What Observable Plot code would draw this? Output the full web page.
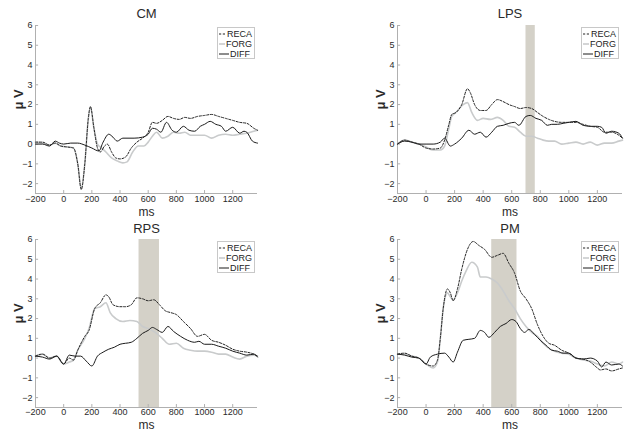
<!DOCTYPE html>
<html>
<head>
<meta charset="utf-8">
<script src="https://cdn.jsdelivr.net/npm/d3@7"></script>
<script src="https://cdn.jsdelivr.net/npm/@observablehq/plot@0.6"></script>
<style>
  html, body { margin: 0; padding: 0; background: #fff; }
  #wrap { position: relative; width: 629px; height: 437px; overflow: hidden; font-family: "Liberation Sans", Arial, sans-serif; }
  .panel { position: absolute; }
  .legend { position: absolute; border: 1px solid #c8c8c8; background: #fff; font-size: 9px; color: #222; line-height: 10px; padding: 1px 2px 1px 0; box-sizing: border-box; }
  .legend .row { display: flex; align-items: center; height: 10px; }
  .legend svg { display: block; margin-right: 1px; }
</style>
</head>
<body>
<div id="wrap"></div>
<script>
// ---- tick labels / domains ----
const xTicks = [-200, 0, 200, 400, 600, 800, 1000, 1200];
const yTicks = [-2, -1, 0, 1, 2, 3, 4, 5, 6];
const xDomain = [-200, 1376];
const yDomain = [-2.5, 6];
const seriesNames = ["RECA", "FORG", "DIFF"];
const panelTitles = ["CM", "LPS", "RPS", "PM"];

// ---- CM ----
const cmReca = [[-200,0.1],[-150,0.1],[-100,-0.05],[-60,0.05],[-20,-0.1],[30,-0.15],[70,-0.2],[100,-1.0],[125,-2.3],[150,-1.0],[175,1.3],[190,1.9],[215,0.8],[240,-0.2],[260,-0.4],[290,-0.1],[310,0.0],[340,-0.4],[370,-0.7],[400,-0.75],[440,-0.65],[480,-0.2],[520,0.1],[560,0.3],[600,0.6],[630,1.1],[660,1.05],[700,1.2],[740,1.4],[780,1.3],[820,1.25],[860,1.35],[900,1.3],[950,1.4],[1000,1.45],[1050,1.5],[1100,1.4],[1150,1.3],[1200,1.2],[1250,1.1],[1300,1.05],[1350,0.8],[1376,0.7]];
const cmForg = [[-200,0.1],[-150,0.05],[-100,-0.05],[-60,0.05],[-20,-0.1],[30,-0.15],[70,-0.2],[100,-1.0],[125,-2.25],[150,-1.0],[175,1.3],[190,1.85],[215,0.8],[240,0.0],[270,-0.2],[300,-0.4],[340,-0.7],[380,-0.85],[420,-0.95],[450,-0.9],[490,-0.4],[530,-0.1],[570,-0.1],[600,0.1],[630,0.4],[660,0.6],[700,0.3],[740,0.4],[780,0.6],[820,0.55],[860,0.6],[900,0.45],[950,0.45],[1000,0.45],[1050,0.3],[1100,0.45],[1150,0.5],[1200,0.45],[1250,0.5],[1300,0.55],[1350,0.65],[1376,0.7]];
const cmDiff = [[-200,0],[-150,0],[-100,-0.1],[-60,0.15],[-30,0.05],[0,0.0],[50,0.05],[100,0.05],[150,-0.05],[200,-0.2],[250,-0.35],[280,0.1],[320,0.5],[350,0.35],[380,0.15],[420,0.3],[500,0.3],[560,0.35],[600,0.5],[630,0.8],[660,0.75],[690,0.6],[730,1.1],[770,0.7],[800,0.6],[850,0.9],[890,0.7],[930,0.65],[970,0.9],[1000,1.0],[1040,1.15],[1080,1.0],[1120,0.9],[1150,0.65],[1200,0.85],[1250,0.55],[1280,0.65],[1300,0.6],[1340,0.15],[1376,0.05]];

// ---- LPS ----
const lpsReca = [[-200,0.0],[-150,0.2],[-100,0.1],[-50,0.0],[0,-0.2],[50,-0.25],[100,-0.2],[130,0.2],[160,1.0],[180,1.5],[210,1.6],[250,2.0],[290,2.8],[310,2.6],[340,2.0],[380,1.7],[420,1.7],[460,2.0],[500,2.25],[540,2.15],[580,2.0],[620,1.9],[660,1.8],[700,1.85],[740,1.8],[780,1.6],[820,1.4],[860,1.25],[900,1.15],[950,1.1],[1000,1.1],[1050,1.1],[1100,1.0],[1150,0.9],[1200,0.85],[1250,0.6],[1300,0.6],[1350,0.45],[1376,0.3]];
const lpsForg = [[-200,0],[-150,0.2],[-100,0.1],[-50,0],[0,-0.15],[50,-0.3],[100,-0.3],[130,-0.1],[160,0.8],[180,1.4],[210,1.6],[260,2.0],[290,2.1],[320,1.6],[360,1.2],[400,1.3],[450,1.25],[500,1.35],[540,1.2],[580,0.9],[620,0.85],[660,0.6],[700,0.4],[740,0.4],[780,0.3],[820,0.2],[860,0.15],[900,0.15],[950,0.0],[1000,0.05],[1050,0.1],[1100,0.0],[1150,0.1],[1200,-0.05],[1250,0.05],[1300,0.05],[1350,0.15],[1376,0.2]];
const lpsDiff = [[-200,0],[-150,0.15],[-100,0.1],[-50,0.0],[0,0.0],[50,0.0],[100,0.1],[130,0.3],[170,-0.1],[200,0.0],[250,0.3],[300,0.7],[340,0.5],[380,0.6],[420,0.35],[460,0.6],[500,0.9],[540,0.95],[580,1.05],[620,1.1],[650,0.95],[700,1.4],[730,1.45],[770,1.3],[810,1.2],[850,0.95],[880,1.0],[920,1.0],[960,1.05],[1000,1.1],[1050,1.15],[1100,0.95],[1150,0.9],[1200,0.9],[1230,0.85],[1260,0.55],[1300,0.65],[1350,0.55],[1376,0.3]];

// ---- RPS ----
const rpsReca = [[-200,0.1],[-150,0.2],[-100,0.0],[-50,0.1],[0,-0.3],[40,0.0],[70,-0.1],[100,0.4],[150,1.1],[180,1.4],[220,2.5],[260,2.8],[300,3.2],[320,3.1],[350,2.7],[400,2.6],[440,2.6],[480,2.7],[520,3.05],[560,3.0],[600,2.9],[640,2.95],[680,2.7],[720,2.4],[760,2.3],[800,2.2],[850,1.85],[900,1.5],[950,1.1],[1000,1.2],[1050,0.9],[1100,0.8],[1150,0.65],[1200,0.45],[1250,0.35],[1300,0.3],[1350,0.2],[1376,0.1]];
const rpsForg = [[-200,0.1],[-150,0.2],[-100,0.0],[-50,0.1],[0,-0.3],[40,-0.2],[70,-0.1],[100,0.4],[150,1.0],[180,1.5],[220,2.5],[260,2.6],[300,2.8],[330,2.3],[370,2.0],[420,1.85],[470,1.9],[520,1.85],[560,1.6],[600,1.5],[650,1.3],[700,1.0],[750,0.7],[800,0.75],[850,0.5],[900,0.4],[950,0.35],[1000,0.35],[1050,0.3],[1100,0.2],[1150,0.2],[1200,0.05],[1250,-0.05],[1300,0.1],[1350,0.15],[1376,0.1]];
const rpsDiff = [[-200,0.1],[-150,0.05],[-100,-0.05],[-50,0.1],[0,-0.3],[40,0.15],[80,0.1],[120,0.1],[160,-0.15],[200,-0.4],[240,0.1],[280,0.3],[320,0.45],[360,0.55],[400,0.7],[440,0.75],[480,0.8],[520,1.0],[560,1.25],[600,1.4],[630,1.55],[660,1.45],[700,1.3],[740,1.6],[780,1.35],[830,1.1],[880,0.9],[930,0.8],[960,0.85],[1000,0.7],[1050,0.7],[1100,0.6],[1150,0.5],[1200,0.35],[1250,0.25],[1300,0.15],[1350,0.2],[1376,0.05]];

// ---- PM ----
const pmReca = [[-200,0.2],[-150,0.25],[-100,0.1],[-50,0.0],[0,-0.3],[50,-0.4],[80,-0.1],[100,1.0],[120,2.5],[150,3.5],[170,3.3],[190,2.9],[220,3.5],[250,4.5],[290,5.5],[330,5.9],[370,5.7],[410,5.5],[460,5.1],[500,5.2],[540,5.3],[580,4.8],[620,4.3],[660,3.4],[700,3.0],[740,2.5],[780,1.7],[820,1.1],[860,0.75],[900,0.65],[950,0.4],[1000,0.25],[1050,0.0],[1100,-0.05],[1150,-0.2],[1200,-0.5],[1220,-0.6],[1260,-0.55],[1300,-0.65],[1350,-0.55],[1376,-0.5]];
const pmForg = [[-200,0.2],[-150,0.2],[-100,0.1],[-50,0.0],[0,-0.3],[50,-0.5],[80,-0.2],[100,1.0],[120,2.5],[150,3.3],[170,3.1],[190,2.95],[220,3.3],[250,3.9],[280,4.4],[320,4.85],[360,4.6],[380,4.1],[420,4.1],[460,4.0],[500,3.8],[540,3.4],[580,2.9],[620,2.5],[660,2.0],[700,1.6],[740,1.3],[780,1.1],[820,0.75],[860,0.5],[900,0.35],[950,0.25],[1000,0.2],[1050,0.0],[1100,-0.1],[1150,-0.15],[1200,-0.3],[1250,-0.4],[1300,-0.2],[1350,-0.3],[1376,-0.2]];
const pmDiff = [[-200,0.2],[-150,0.15],[-100,0.05],[-50,0.0],[0,-0.3],[30,0.05],[80,0.2],[130,0.25],[160,0.05],[190,-0.2],[220,0.3],[260,0.9],[300,0.95],[340,1.0],[380,1.4],[410,1.3],[440,1.05],[480,1.3],[520,1.6],[560,1.75],[600,1.95],[630,1.85],[660,1.5],[690,1.3],[720,1.45],[760,1.2],[800,0.9],[840,0.65],[880,0.4],[920,0.35],[960,0.25],[1000,0.25],[1050,0.0],[1100,-0.05],[1150,0.0],[1200,-0.15],[1230,-0.45],[1260,-0.2],[1300,-0.35],[1350,-0.3],[1376,-0.4]];

// ---- significant windows (ms) ----
const lpsBand = [700, 765];
const rpsBand = [535, 680];
const pmBand = [460, 637];

// ---- styles ----
const recaStyle = {stroke: "#222", strokeWidth: 1, strokeDasharray: "2.2,1.6"};
const forgStyle = {stroke: "#c9cbcc", strokeWidth: 1.6};
const diffStyle = {stroke: "#1a1a1a", strokeWidth: 1};
const bandFill = "#d4d1c8";
const axisColor = "#b0b0b0";
const textColor = "#2a2a2a";

const panels = [
  {title: panelTitles[0], reca: cmReca, forg: cmForg, diff: cmDiff, band: null,
   left: 0, top: 0, w: 314, h: 218, ml: 35, mr: 57, mt: 25, mb: 25, legend: [217, 27],
   titleDy: -12, tickPad: 2, msDy: 19},
  {title: panelTitles[1], reca: lpsReca, forg: lpsForg, diff: lpsDiff, band: lpsBand,
   left: 314, top: 0, w: 315, h: 218, ml: 83, mr: 7, mt: 25, mb: 25, legend: [581, 27],
   titleDy: -12, tickPad: 2, msDy: 19},
  {title: panelTitles[2], reca: rpsReca, forg: rpsForg, diff: rpsDiff, band: rpsBand,
   left: 0, top: 218, w: 314, h: 219, ml: 35, mr: 57, mt: 21, mb: 30, legend: [217, 241],
   titleDy: -11, tickPad: 1, msDy: 18},
  {title: panelTitles[3], reca: pmReca, forg: pmForg, diff: pmDiff, band: pmBand,
   left: 314, top: 218, w: 315, h: 219, ml: 83, mr: 7, mt: 21, mb: 30, legend: [581, 241],
   titleDy: -11, tickPad: 1, msDy: 18}
];

const wrap = document.getElementById("wrap");
const X = d => d[0], Y = d => d[1];
const fmt = d => d < 0 ? "\u2212" + Math.abs(d) : String(d);

for (const p of panels) {
  const marks = [];
  if (p.band) marks.push(Plot.rect([p.band], {x1: d => d[0], x2: d => d[1], fill: bandFill}));
  marks.push(
    Plot.ruleX([xDomain[0]], {stroke: axisColor, strokeWidth: 1}),
    Plot.ruleY([yDomain[0]], {stroke: axisColor, strokeWidth: 1}),
    Plot.ruleX(xTicks, {y1: yDomain[0], y2: yDomain[0] + 0.15, stroke: axisColor}),
    Plot.ruleY(yTicks, {x1: xDomain[0], x2: xDomain[0] + 22, stroke: axisColor}),
    Plot.axisX(xTicks, {tickSize: 0, tickPadding: p.tickPad, fontSize: 9, fill: textColor, tickFormat: fmt, label: null}),
    Plot.axisY(yTicks, {tickSize: 0, tickPadding: 3, fontSize: 9, fill: textColor, tickFormat: fmt, label: null}),
    Plot.line(p.forg, {x: X, y: Y, ...forgStyle, curve: "monotone-x"}),
    Plot.line(p.diff, {x: X, y: Y, ...diffStyle, curve: "monotone-x"}),
    Plot.line(p.reca, {x: X, y: Y, ...recaStyle, curve: "monotone-x"}),
    Plot.text([p.title], {frameAnchor: "top", lineAnchor: "middle", dy: p.titleDy, fontSize: 13, fill: textColor}),
    Plot.text(["ms"], {frameAnchor: "bottom", lineAnchor: "middle", dy: p.msDy, fontSize: 12, fill: textColor}),
    Plot.text(["\u03bc V"], {frameAnchor: "left", dx: -17, rotate: -90, fontSize: 13, fontWeight: "bold", fill: textColor})
  );
  const svg = Plot.plot({
    width: p.w, height: p.h,
    marginLeft: p.ml, marginRight: p.mr, marginTop: p.mt, marginBottom: p.mb,
    x: {domain: xDomain},
    y: {domain: yDomain},
    style: {fontFamily: "'Liberation Sans', Arial, sans-serif", background: "transparent", overflow: "visible"},
    marks
  });
  svg.classList.add("panel");
  svg.style.left = p.left + "px";
  svg.style.top = p.top + "px";
  wrap.appendChild(svg);

  // legend
  const lg = document.createElement("div");
  lg.className = "legend";
  lg.style.left = p.legend[0] + "px";
  lg.style.top = p.legend[1] + "px";
  lg.style.width = "38px";
  lg.style.height = "32px";
  const styles = [recaStyle, forgStyle, diffStyle];
  seriesNames.forEach((name, i) => {
    const s = styles[i];
    const row = document.createElement("div");
    row.className = "row";
    row.innerHTML = `<svg width="11" height="10"><line x1="1" x2="11" y1="5" y2="5" stroke="${s.stroke}" stroke-width="${s.strokeWidth}" ${s.strokeDasharray ? `stroke-dasharray="${s.strokeDasharray}"` : ""}/></svg><span>${name}</span>`;
    lg.appendChild(row);
  });
  wrap.appendChild(lg);
}
</script>
</body>
</html>
